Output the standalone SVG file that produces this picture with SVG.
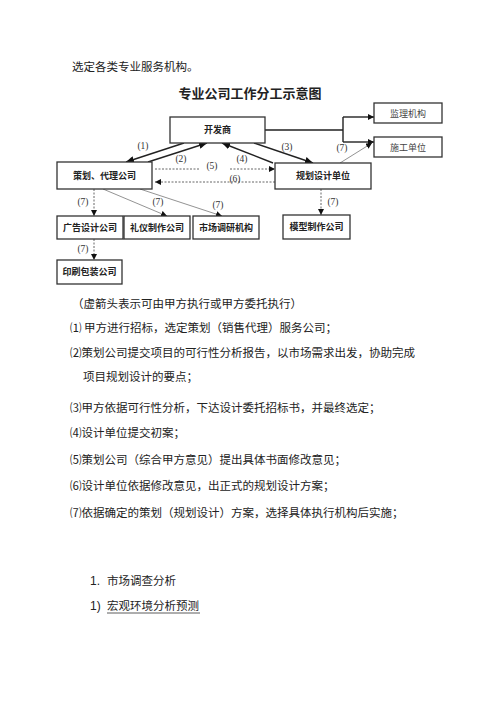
<svg xmlns="http://www.w3.org/2000/svg" width="500" height="707" viewBox="0 0 500 707">
<style>
.t{font-family:"Noto Sans CJK SC","Liberation Serif",serif;fill:#222}
.p{font-size:11.5px}
.box rect{fill:#fff;stroke:#333;stroke-width:1.3}
.box text{font-family:"Noto Sans CJK SC",sans-serif;font-size:9px;font-weight:bold;fill:#222;text-anchor:middle}
.box text.nw{font-weight:normal;fill:#444}
.lbl{font-family:"Liberation Serif",serif;font-size:9.5px;fill:#333;text-anchor:middle}
.solid{stroke:#222;stroke-width:1.4;fill:none}
.dash{stroke:#555;stroke-width:0.9;stroke-dasharray:2 1.5;fill:none}
.thin{stroke:#777;stroke-width:0.8;fill:none}
</style>
<defs>
<marker id="ah" markerUnits="userSpaceOnUse" markerWidth="9" markerHeight="7" refX="8" refY="3.5" orient="auto"><path d="M0,0 L8,3.5 L0,7 Z" fill="#111"/></marker>
<marker id="ahs" markerUnits="userSpaceOnUse" markerWidth="7" markerHeight="6" refX="6" refY="3" orient="auto"><path d="M0,0 L6,3 L0,6 Z" fill="#111"/></marker>
</defs>
<rect width="500" height="707" fill="#fff"/>
<text class="t p" x="72" y="71">选定各类专业服务机构。</text>
<text x="250" y="98" text-anchor="middle" style="font-family:'Noto Sans CJK SC',sans-serif;font-size:13px;font-weight:bold;fill:#222">专业公司工作分工示意图</text>

<g id="connectors">
<path class="solid" d="M184,143 L126,162" marker-end="url(#ah)"/>
<path class="solid" d="M148,162 L207,143" marker-end="url(#ah)"/>
<path class="solid" d="M254,143 L313,163" marker-end="url(#ah)"/>
<path class="solid" d="M273,163 L222,143" marker-end="url(#ah)"/>
<path class="solid" d="M265,130 L343,130 M343,117 L343,142" stroke-width="1"/>
<path class="solid" d="M343,117 L374,117" stroke-width="1" marker-end="url(#ahs)"/>
<path class="solid" d="M343,142 L374,142" stroke-width="1" marker-end="url(#ahs)"/>
<path class="thin" d="M340,163 L372,143" marker-end="url(#ahs)"/>
<path class="dash" d="M155,169 L200,169"/>
<path class="dash" d="M230,169 L275,169" marker-end="url(#ahs)"/>
<path class="dash" d="M275,182 L155,182" marker-end="url(#ahs)"/>
<path class="dash" d="M94,189 L94,216" marker-end="url(#ahs)"/>
<path class="thin" d="M103,189 L167,216" marker-end="url(#ahs)"/>
<path class="thin" d="M140,189 L222,216" marker-end="url(#ahs)"/>
<path class="dash" d="M94,239 L94,260" marker-end="url(#ahs)"/>
<path class="dash" d="M321,189 L321,215" marker-end="url(#ahs)"/>
<text class="lbl" x="143" y="149">(1)</text>
<text class="lbl" x="181" y="162">(2)</text>
<text class="lbl" x="287" y="150">(3)</text>
<text class="lbl" x="242" y="162">(4)</text>
<text class="lbl" x="212" y="169">(5)</text>
<text class="lbl" x="235" y="182">(6)</text>
<text class="lbl" x="342" y="151">(7)</text>
<text class="lbl" x="83" y="205">(7)</text>
<text class="lbl" x="158" y="205">(7)</text>
<text class="lbl" x="218" y="208">(7)</text>
<text class="lbl" x="83" y="252">(7)</text>
<text class="lbl" x="333" y="205">(7)</text>
</g>

<g id="n-kfs" class="box"><rect x="170" y="117" width="95" height="26"/><text x="217.5" y="133">开发商</text></g>
<g id="n-jl" class="box"><rect x="374" y="103" width="68" height="20"/><text class="nw" x="408" y="116.5">监理机构</text></g>
<g id="n-sg" class="box"><rect x="374" y="137" width="68" height="20"/><text class="nw" x="408" y="150.5">施工单位</text></g>
<g id="n-ch" class="box"><rect x="57" y="162" width="95" height="27"/><text x="104.5" y="178.5">策划、代理公司</text></g>
<g id="n-gh" class="box"><rect x="275" y="163" width="96" height="26"/><text x="323" y="179">规划设计单位</text></g>
<g id="n-gg" class="box"><rect x="57" y="216" width="66" height="23"/><text x="90" y="230.5">广告设计公司</text></g>
<g id="n-ly" class="box"><rect x="124" y="216" width="66" height="23"/><text x="157" y="230.5">礼仪制作公司</text></g>
<g id="n-sc" class="box"><rect x="193" y="216" width="66" height="23"/><text x="226" y="230.5">市场调研机构</text></g>
<g id="n-mx" class="box"><rect x="283" y="215" width="67" height="24"/><text x="316.5" y="230">模型制作公司</text></g>
<g id="n-ys" class="box"><rect x="57" y="260" width="65" height="24"/><text x="89.5" y="275">印刷包装公司</text></g>

<text class="t p" x="72" y="308">（虚箭头表示可由甲方执行或甲方委托执行）</text>
<text class="t p" x="70" y="332">⑴ 甲方进行招标，选定策划（销售代理）服务公司；</text>
<text class="t p" x="70" y="357">⑵策划公司提交项目的可行性分析报告，以市场需求出发，协助完成</text>
<text class="t p" x="83" y="381">项目规划设计的要点；</text>
<text class="t p" x="70" y="412">⑶甲方依据可行性分析，下达设计委托招标书，并最终选定；</text>
<text class="t p" x="70" y="437">⑷设计单位提交初案；</text>
<text class="t p" x="70" y="464">⑸策划公司（综合甲方意见）提出具体书面修改意见；</text>
<text class="t p" x="70" y="490">⑹设计单位依据修改意见，出正式的规划设计方案；</text>
<text class="t p" x="70" y="517">⑺依据确定的策划（规划设计）方案，选择具体执行机构后实施；</text>

<text x="90" y="585" style="font-family:'Liberation Sans',sans-serif;font-size:12px;fill:#222">1.</text>
<text class="t p" x="107" y="585">市场调查分析</text>
<text x="90" y="610" style="font-family:'Liberation Sans',sans-serif;font-size:12px;fill:#222">1)</text>
<text class="t p" x="107" y="610">宏观环境分析预测</text>
<line x1="107" y1="613" x2="200" y2="613" stroke="#333" stroke-width="0.8"/>
</svg>
